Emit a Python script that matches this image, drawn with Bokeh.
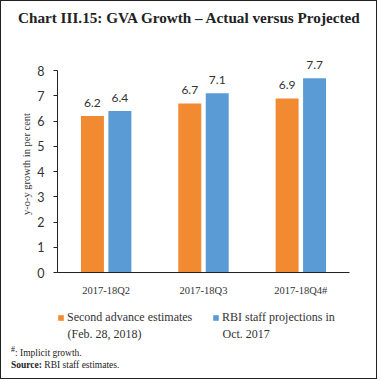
from bokeh.plotting import figure
from bokeh.models import (FactorRange, Legend, LegendItem, FixedTicker,
                          ColumnDataSource, Div, Label)
from bokeh.layouts import column
from bokeh.transform import dodge
from bokeh.core.properties import value
from bokeh.embed import file_html
from bokeh.resources import INLINE

# ---- data ----
categories = ["2017-18Q2", "2017-18Q3", "2017-18Q4#"]
second_advance = [6.2, 6.7, 6.9]
rbi_projection = [6.4, 7.1, 7.7]
y_ticks = [0, 1, 2, 3, 4, 5, 6, 7, 8]

series1_name = "Second advance estimates"
series1_name2 = "(Feb. 28, 2018)"
series2_name = "RBI staff projections in"
series2_name2 = "Oct. 2017"
title_text = "Chart III.15: GVA Growth \u2013 Actual versus Projected"
y_title = "y-o-y growth in per cent"
note_text = "<sup>#</sup>: Implicit growth."
source_text = "<b>Source:</b> RBI staff estimates."

ORANGE = "#F28A32"
BLUE = "#5B9BD5"
SERIF = "Liberation Serif"
SANS = "Lato"

src = ColumnDataSource(dict(
    cat=categories,
    a=second_advance,
    b=rbi_projection,
    a_lbl=[f"{v:.1f}" for v in second_advance],
    b_lbl=[f"{v:.1f}" for v in rbi_projection],
))

W = 375

title_div = Div(
    text=(f'<div style="font-family:\'{SERIF}\';font-weight:bold;white-space:nowrap;'
          f'font-size:15.2px;line-height:15px;text-align:left;padding-top:9px;'
          f'padding-left:17px;color:#222;">{title_text}</div>'),
    width=W, height=45, margin=0)

# ---- main chart ----
p = figure(x_range=FactorRange(*categories), y_range=(0, 8.6),
           width=W, height=254, output_backend="svg", toolbar_location=None,
           min_border_left=56, min_border_right=27, min_border_top=9,
           min_border_bottom=28, margin=0)
p.x_range.range_padding = 0
p.outline_line_color = None
p.xgrid.grid_line_color = None
p.ygrid.grid_line_color = None

off = 0.141
w = 0.236
r1 = p.vbar(x=dodge("cat", -off, range=p.x_range), top="a", width=w,
            source=src, fill_color=ORANGE, line_color=None)
r2 = p.vbar(x=dodge("cat", off, range=p.x_range), top="b", width=w,
            source=src, fill_color=BLUE, line_color=None)

p.text(x=dodge("cat", -off, range=p.x_range), y="a", text="a_lbl", source=src,
       text_align="center", text_baseline="bottom", y_offset=-9,
       text_font=value(SANS), text_font_size="12px", text_color="#333")
p.text(x=dodge("cat", off, range=p.x_range), y="b", text="b_lbl", source=src,
       text_align="center", text_baseline="bottom", y_offset=-9,
       text_font=value(SANS), text_font_size="12px", text_color="#333")

p.yaxis.bounds = (0, 8)
p.yaxis.ticker = FixedTicker(ticks=y_ticks)
p.yaxis.minor_tick_line_color = None
p.yaxis.major_tick_out = 4
p.yaxis.major_tick_in = 0
p.yaxis.axis_line_color = "#222"
p.yaxis.major_tick_line_color = "#222"
p.yaxis.major_label_text_font = SANS
p.yaxis.major_label_text_font_size = "12.5px"
p.yaxis.major_label_text_color = "#333"
p.yaxis.major_label_standoff = 9
p.yaxis.axis_label = y_title
p.yaxis.axis_label_text_font = SERIF
p.yaxis.axis_label_text_font_style = "normal"
p.yaxis.axis_label_text_font_size = "10.5px"
p.yaxis.axis_label_text_color = "#333"
p.yaxis.axis_label_standoff = 2

p.xaxis.axis_line_color = "#222"
p.xaxis.major_tick_line_color = None
p.xaxis.major_tick_out = 0
p.xaxis.minor_tick_line_color = None
p.xaxis.major_label_text_font = SERIF
p.xaxis.major_label_text_font_size = "10.5px"
p.xaxis.major_label_text_color = "#333"
p.xaxis.major_label_standoff = 12

# ---- legend figure (same series, drawn outside its visible range) ----
lf = figure(x_range=FactorRange(*categories), y_range=(100, 101),
            width=W, height=42, output_backend="svg", toolbar_location=None,
            x_axis_location=None, y_axis_location=None, min_border=0,
            margin=0)
lf.outline_line_color = None
lf.xgrid.grid_line_color = None
lf.ygrid.grid_line_color = None
lr1 = lf.vbar(x=dodge("cat", -off, range=lf.x_range), top="a", width=w,
              source=src, fill_color=ORANGE, line_color=None)
lr2 = lf.vbar(x=dodge("cat", off, range=lf.x_range), top="b", width=w,
              source=src, fill_color=BLUE, line_color=None)
legend = Legend(items=[LegendItem(label=series1_name, renderers=[lr1]),
                       LegendItem(label=series2_name, renderers=[lr2])],
                location=(0, 17), orientation="horizontal",
                glyph_width=7, glyph_height=7, label_standoff=3,
                label_width=140, spacing=5, padding=0, margin=0,
                border_line_alpha=0, background_fill_alpha=0,
                label_text_font=SERIF, label_text_font_size="12px",
                label_text_color="#333", label_height=14)
lf.add_layout(legend, "center")
for txt, xs in ((series1_name2, 10), (series2_name2, 165)):
    lf.add_layout(Label(x=xs, y=9, x_units="screen", y_units="screen",
                        text=txt, text_font=SERIF, text_font_size="12px",
                        text_color="#333", text_baseline="alphabetic"))

foot_div = Div(
    text=(f'<div style="width:{W - 10}px;font-family:\'{SERIF}\';font-size:9.5px;'
          f'line-height:12px;padding-top:2px;padding-left:10px;color:#222;">'
          f'{note_text}<br>{source_text}</div>'),
    width=W, height=36, margin=0)

page = column(title_div, p, lf, foot_div, spacing=0,
              styles={"border": "1px solid #222"})

open("out.html", "w").write(file_html(page, INLINE))
